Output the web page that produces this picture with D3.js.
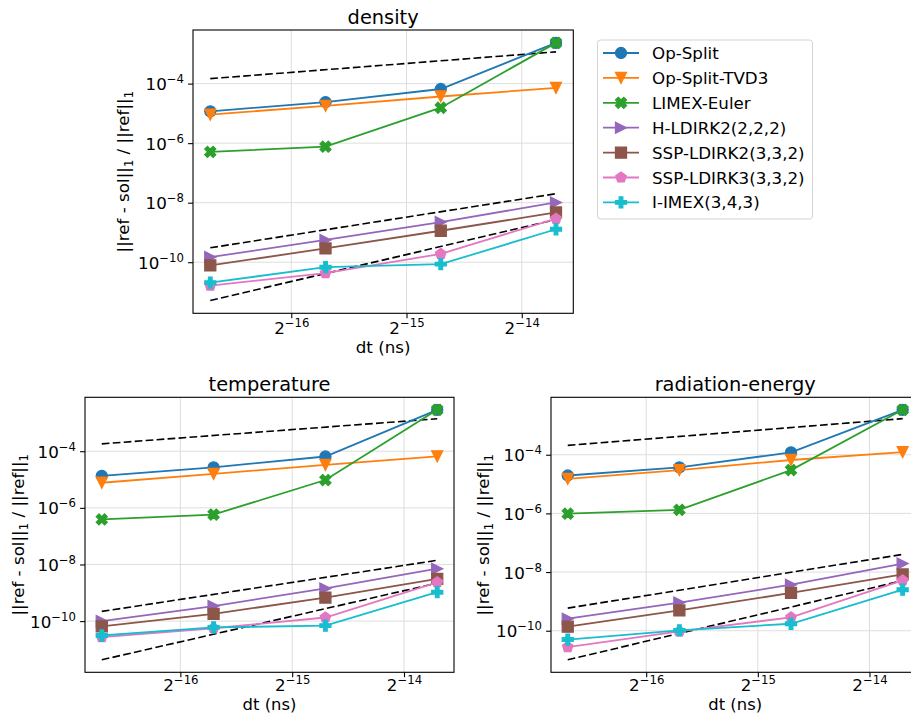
<!DOCTYPE html>
<html>
<head>
<meta charset="utf-8">
<script src="https://cdn.jsdelivr.net/npm/d3@7"></script>
<style>
body { margin: 0; background: #fff; }
text { font-family: "DejaVu Sans", sans-serif; fill: #000; }
</style>
</head>
<body>
<div id="chart"></div>
<script>
// time steps (ns)
const dt = [9.375e-6, 1.875e-5, 3.75e-5, 7.5e-5];

const methods = ["Op-Split", "Op-Split-TVD3", "LIMEX-Euler", "H-LDIRK2(2,2,2)",
                 "SSP-LDIRK2(3,3,2)", "SSP-LDIRK3(3,3,2)", "I-IMEX(3,4,3)"];
const colors = ["#1f77b4", "#ff7f0e", "#2ca02c", "#9467bd", "#8c564b", "#e377c2", "#17becf"];
const markers = ["o", "v", "X", ">", "s", "p", "P"];

const xTickExps = [-16, -15, -14];
const yTickExps = [-10, -8, -6, -4];

// relative L1 errors, one row per method
const densityErrors = [
    [1.17e-5, 2.4e-5, 6.6e-5, 2.34e-3],
    [9.1e-6, 1.8e-5, 3.7e-5, 7.2e-5],
    [5.1e-7, 7.6e-7, 1.55e-5, 2.34e-3],
    [1.48e-10, 5.6e-10, 2.24e-9, 1.02e-8],
    [7.8e-11, 2.9e-10, 1.14e-9, 4.7e-9],
    [1.63e-11, 4.3e-11, 1.9e-10, 2.9e-9],
    [2.06e-11, 6.8e-11, 8.6e-11, 1.28e-9]
];
const temperatureErrors = [
    [1.34e-5, 2.7e-5, 6.5e-5, 2.9e-3],
    [7.7e-6, 1.58e-5, 3.3e-5, 6.6e-5],
    [3.9e-7, 5.8e-7, 9.6e-6, 2.9e-3],
    [1.0e-10, 3.4e-10, 1.42e-9, 7.1e-9],
    [6.5e-11, 1.8e-10, 6.8e-10, 3.1e-9],
    [2.7e-11, 5.6e-11, 1.34e-10, 2.35e-9],
    [3.1e-11, 6.0e-11, 6.9e-11, 1.05e-9]
];
const radiationErrors = [
    [1.96e-5, 3.7e-5, 1.2e-4, 3.4e-3],
    [1.5e-5, 3.0e-5, 6.6e-5, 1.23e-4],
    [9.8e-7, 1.32e-6, 3.0e-5, 3.4e-3],
    [2.57e-10, 9.1e-10, 3.7e-9, 1.94e-8],
    [1.37e-10, 4.9e-10, 1.94e-9, 8.3e-9],
    [2.77e-11, 9.5e-11, 2.85e-10, 5.2e-9],
    [5.0e-11, 1.03e-10, 1.73e-10, 2.5e-9]
];

// dashed order-1/2/3 guide lines: value at first and last dt
const densityRefs = [[1.47e-4, 1.17e-3], [3.05e-10, 2.0e-8], [5.2e-12, 2.7e-9]];
const temperatureRefs = [[1.82e-4, 1.4e-3], [2.2e-10, 1.4e-8], [4.3e-12, 2.2e-9]];
const radiationRefs = [[2.08e-4, 1.7e-3], [5.9e-10, 4.0e-8], [1.02e-11, 5.1e-9]];

const width = 911;
const height = 714;
const msize = 11.1;

const svg = d3.select("#chart")
    .append("svg")
    .attr("width", width)
    .attr("height", height);

// matplotlib-like marker outlines
function markerPath(type, s) {
    const h = s / 2;
    const poly = pts => "M" + pts.map(p => p[0].toFixed(2) + "," + p[1].toFixed(2)).join("L") + "Z";
    if (type === "o") {
        return `M${h},0A${h},${h} 0 1,1 ${-h},0A${h},${h} 0 1,1 ${h},0Z`;
    } else if (type === "v") {
        return poly([[0, h], [-h, -h], [h, -h]]);
    } else if (type === ">") {
        return poly([[h, 0], [-h, -h], [-h, h]]);
    } else if (type === "s") {
        return poly([[-h, -h], [h, -h], [h, h], [-h, h]]);
    } else if (type === "p") {
        return poly(d3.range(5).map(k => {
            const a = -Math.PI / 2 + k * 2 * Math.PI / 5;
            return [h * Math.cos(a), h * Math.sin(a)];
        }));
    } else if (type === "X") {
        const v = [[-1, -2], [0, -1], [1, -2], [2, -1], [1, 0], [2, 1], [1, 2], [0, 1], [-1, 2], [-2, 1], [-1, 0], [-2, -1]];
        return poly(v.map(p => [p[0] * s / 4, p[1] * s / 4]));
    } else {
        const v = [[-1, -3], [1, -3], [1, -1], [3, -1], [3, 1], [1, 1], [1, 3], [-1, 3], [-1, 1], [-3, 1], [-3, -1], [-1, -1]];
        return poly(v.map(p => [p[0] * s / 6, p[1] * s / 6]));
    }
}

function drawPanel(p, idx) {
    const g = svg.append("g");

    const lx = d3.extent(dt, d => Math.log2(d));
    const mx = (lx[1] - lx[0]) * 0.05;
    const xScale = d3.scaleLog().base(2)
        .domain([2 ** (lx[0] - mx), 2 ** (lx[1] + mx)])
        .range([p.left, p.right]);

    const allVals = p.errors.flat().concat(p.refs.flat());
    const ly = d3.extent(allVals, d => Math.log10(d));
    const my = (ly[1] - ly[0]) * 0.05;
    const yScale = d3.scaleLog()
        .domain([10 ** (ly[0] - my), 10 ** (ly[1] + my)])
        .range([p.bottom, p.top]);

    const clipId = "clip" + idx;
    g.append("clipPath").attr("id", clipId)
        .append("rect")
        .attr("x", p.left).attr("y", p.top)
        .attr("width", p.right - p.left).attr("height", p.bottom - p.top);

    // grid
    g.selectAll(".gx")
        .data(xTickExps)
        .enter()
        .append("line")
            .attr("x1", d => xScale(2 ** d)).attr("x2", d => xScale(2 ** d))
            .attr("y1", p.top).attr("y2", p.bottom)
            .attr("stroke", "#dedede").attr("stroke-width", 1);
    g.selectAll(".gy")
        .data(yTickExps)
        .enter()
        .append("line")
            .attr("x1", p.left).attr("x2", p.right)
            .attr("y1", d => yScale(10 ** d)).attr("y2", d => yScale(10 ** d))
            .attr("stroke", "#dedede").attr("stroke-width", 1);

    const plot = g.append("g").attr("clip-path", `url(#${clipId})`);

    const line = d3.line()
        .x(d => xScale(d[0]))
        .y(d => yScale(d[1]));

    // reference slopes
    p.refs.forEach(function(r) {
        plot.append("path")
            .attr("d", line([[dt[0], r[0]], [dt[dt.length - 1], r[1]]]))
            .attr("fill", "none")
            .attr("stroke", "#000")
            .attr("stroke-width", 1.6)
            .attr("stroke-dasharray", "7.7,3.3");
    });

    p.errors.forEach(function(errs, i) {
        const pts = dt.map((d, j) => [d, errs[j]]);
        plot.append("path")
            .attr("d", line(pts))
            .attr("fill", "none")
            .attr("stroke", colors[i])
            .attr("stroke-width", 1.8);
        plot.selectAll(".m" + i)
            .data(pts)
            .enter()
            .append("path")
                .attr("d", markerPath(markers[i], msize))
                .attr("transform", d => `translate(${xScale(d[0])},${yScale(d[1])})`)
                .attr("fill", colors[i])
                .attr("stroke", colors[i])
                .attr("stroke-width", 1.2)
                .attr("stroke-linejoin", "miter");
    });

    // axes
    const xAxis = g.append("g")
        .attr("transform", `translate(0,${p.bottom})`)
        .call(d3.axisBottom(xScale)
            .tickValues(xTickExps.map(e => 2 ** e))
            .tickSize(4.9).tickSizeOuter(0).tickFormat(() => ""));
    xAxis.select(".domain").remove();
    xAxis.selectAll(".tick line").attr("stroke-width", 1.1);
    xAxis.selectAll(".tick").each(function(d, i) {
        const t = d3.select(this).append("text")
            .attr("y", p.tickDy).attr("text-anchor", "middle")
            .attr("font-size", 16.7).style("fill", "#000");
        t.append("tspan").text("2");
        t.append("tspan").attr("dy", -7).attr("font-size", 11.7).text("\u2212" + (-xTickExps[i]));
    });

    const yAxis = g.append("g")
        .attr("transform", `translate(${p.left},0)`)
        .call(d3.axisLeft(yScale)
            .tickValues(yTickExps.map(e => 10 ** e))
            .tickSize(4.9).tickSizeOuter(0).tickFormat(() => ""));
    yAxis.select(".domain").remove();
    yAxis.selectAll(".tick line").attr("stroke-width", 1.1);
    yAxis.selectAll(".tick").each(function(d, i) {
        const t = d3.select(this).append("text")
            .attr("x", -9).attr("y", 6).attr("text-anchor", "end")
            .attr("font-size", 16.7).style("fill", "#000");
        t.append("tspan").text("10");
        t.append("tspan").attr("dy", -7).attr("font-size", 11.7).text("\u2212" + (-yTickExps[i]));
    });

    g.append("rect")
        .attr("x", p.left).attr("y", p.top)
        .attr("width", p.right - p.left).attr("height", p.bottom - p.top)
        .attr("fill", "none").attr("stroke", "#000").attr("stroke-width", 1.1);

    // titles and labels
    g.append("text")
        .attr("x", (p.left + p.right) / 2).attr("y", p.top - 6.5)
        .attr("text-anchor", "middle").attr("font-size", 19.4)
        .text(p.title);

    g.append("text")
        .attr("x", (p.left + p.right) / 2).attr("y", p.bottom + p.labelDy)
        .attr("text-anchor", "middle").attr("font-size", p.labelSize)
        .text("dt (ns)");

    const yl = g.append("text")
        .attr("transform", `translate(${p.ylabelX},${(p.top + p.bottom) / 2}) rotate(-90)`)
        .attr("text-anchor", "middle").attr("font-size", 16.7);
    yl.append("tspan").text("||ref - sol||");
    yl.append("tspan").attr("dy", 4).attr("font-size", 11.7).text("1");
    yl.append("tspan").attr("dy", -4).text(" / ||ref||");
    yl.append("tspan").attr("dy", 4).attr("font-size", 11.7).text("1");
}

const panels = [
    {title: "density", errors: densityErrors, refs: densityRefs,
     left: 193, right: 573.3, top: 30, bottom: 313.3, ylabelX: 129,
     tickDy: 20.5, labelDy: 40, labelSize: 16.7},
    {title: "temperature", errors: temperatureErrors, refs: temperatureRefs,
     left: 85, right: 454, top: 397.3, bottom: 672.3, ylabelX: 23.6,
     tickDy: 19, labelDy: 37.7, labelSize: 16.4},
    {title: "radiation-energy", errors: radiationErrors, refs: radiationRefs,
     left: 551, right: 919.4, top: 397.3, bottom: 672.3, ylabelX: 489.2,
     tickDy: 19, labelDy: 37.7, labelSize: 16.4}
];

panels.forEach(drawPanel);

// legend
const legend = svg.append("g");
legend.append("rect")
    .attr("x", 597.5).attr("y", 40)
    .attr("width", 215).attr("height", 179)
    .attr("rx", 3)
    .attr("fill", "#fff").attr("fill-opacity", 0.8)
    .attr("stroke", "#d4d4d4").attr("stroke-width", 1);

methods.forEach(function(m, i) {
    const yy = 53 + i * 24.9;
    legend.append("line")
        .attr("x1", 603).attr("x2", 639)
        .attr("y1", yy).attr("y2", yy)
        .attr("stroke", colors[i]).attr("stroke-width", 1.8);
    legend.append("path")
        .attr("d", markerPath(markers[i], msize))
        .attr("transform", `translate(621,${yy})`)
        .attr("fill", colors[i]).attr("stroke", colors[i]).attr("stroke-width", 1.2);
    legend.append("text")
        .attr("x", 652).attr("y", yy + 6)
        .attr("font-size", 16.7)
        .text(m);
});
</script>
</body>
</html>
